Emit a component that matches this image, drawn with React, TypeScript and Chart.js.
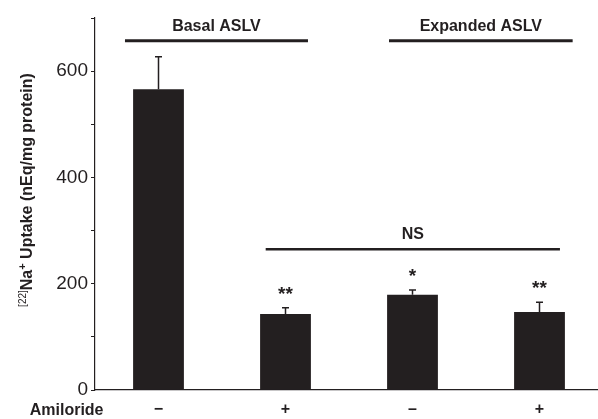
import React, { useEffect, useRef } from 'react';
import { Chart, registerables } from 'chart.js';

Chart.register(...registerables);

// ---- data ----
const categories = ['Basal ASLV, no amiloride', 'Basal ASLV, amiloride', 'Expanded ASLV, no amiloride', 'Expanded ASLV, amiloride'];
const amilorideTicks = ['−', '+', '–', '+'];
const uptake = [566, 143, 179, 147];
const uptakeSem = [61, 12, 9, 18];
const significance = ['', '**', '*', '**'];
const yMin = 0;
const yMax = 700;
const yStep = 100;
const yLabelEvery = 200;

// group brackets (in category-index units and y-data units)
const groupLabels = ['Basal ASLV', 'Expanded ASLV'];
const groupSpans = [[-0.264, 1.177], [1.815, 3.261]];
const groupLevel = 657;
const nsLabel = 'NS';
const nsSpan = [0.844, 3.161];
const nsLevel = 265;

const INK = '#231f20';
const FONT = '"Liberation Sans", Arial, Helvetica, sans-serif';

const overlayPlugin = {
  id: 'overlay',
  afterDatasetsDraw(chart: any) {
    const ctx = chart.ctx as CanvasRenderingContext2D;
    const xs = chart.scales.x;
    const ys = chart.scales.y;
    const x0 = xs.getPixelForValue(0);
    const step = xs.getPixelForValue(1) - x0;
    const px = (i: number) => x0 + i * step;

    ctx.save();
    ctx.strokeStyle = INK;
    ctx.fillStyle = INK;

    // error bars + significance stars
    const meta = chart.getDatasetMeta(0);
    meta.data.forEach((bar: any, i: number) => {
      const x = bar.x;
      const yv = ys.getPixelForValue(uptake[i]);
      const ye = ys.getPixelForValue(uptake[i] + uptakeSem[i]);
      ctx.lineWidth = 1.5;
      ctx.beginPath();
      ctx.moveTo(x, yv);
      ctx.lineTo(x, ye);
      ctx.moveTo(x - 3.5, ye);
      ctx.lineTo(x + 3.5, ye);
      ctx.stroke();
      if (significance[i]) {
        ctx.font = `bold 19px ${FONT}`;
        ctx.textAlign = 'center';
        ctx.textBaseline = 'alphabetic';
        ctx.fillText(significance[i], x, ye - 8);
      }
    });

    // brackets
    const drawBracket = (label: string, span: number[], level: number, lw: number) => {
      const y = ys.getPixelForValue(level);
      const a = px(span[0]);
      const b = px(span[1]);
      ctx.lineWidth = lw;
      ctx.lineCap = 'butt';
      ctx.beginPath();
      ctx.moveTo(a, y);
      ctx.lineTo(b, y);
      ctx.stroke();
      ctx.font = `bold 16px ${FONT}`;
      ctx.textAlign = 'center';
      ctx.textBaseline = 'alphabetic';
      ctx.fillText(label, (a + b) / 2, y - 10);
    };
    groupLabels.forEach((g, i) => drawBracket(g, groupSpans[i], groupLevel, 3));
    drawBracket(nsLabel, nsSpan, nsLevel, 2.5);

    // "Amiloride" row label
    ctx.font = `bold 16px ${FONT}`;
    ctx.textAlign = 'right';
    ctx.textBaseline = 'middle';
    ctx.fillText('Amiloride', 103.5, 411);

    // y-axis title with superscripts
    ctx.save();
    ctx.translate(32, 190);
    ctx.rotate(-Math.PI / 2);
    const parts = [
      { t: '[22]', font: `10px ${FONT}`, dy: -6 },
      { t: 'Na', font: `bold 16px ${FONT}`, dy: 0 },
      { t: '+', font: `bold 11px ${FONT}`, dy: -6 },
      { t: ' Uptake (nEq/mg protein)', font: `bold 16px ${FONT}`, dy: 0 },
    ];
    let total = 0;
    const widths = parts.map((p) => {
      ctx.font = p.font;
      const w = ctx.measureText(p.t).width;
      total += w;
      return w;
    });
    let cx = -total / 2;
    ctx.textAlign = 'left';
    ctx.textBaseline = 'alphabetic';
    parts.forEach((p, i) => {
      ctx.font = p.font;
      ctx.fillText(p.t, cx, p.dy);
      cx += widths[i];
    });
    ctx.restore();

    ctx.restore();
  },
};

export default function App() {
  const canvasRef = useRef<HTMLCanvasElement | null>(null);

  useEffect(() => {
    if (!canvasRef.current) return;
    const chart = new Chart(canvasRef.current, {
      type: 'bar',
      data: {
        labels: categories,
        datasets: [
          {
            data: uptake,
            backgroundColor: INK,
            borderWidth: 0,
            barPercentage: 0.4,
            categoryPercentage: 1.0,
          },
        ],
      },
      options: {
        animation: false,
        responsive: true,
        maintainAspectRatio: false,
        layout: { padding: { top: 18, left: 0, right: 0, bottom: 0 } },
        plugins: {
          legend: { display: false },
          tooltip: { enabled: false },
        },
        scales: {
          x: {
            type: 'category',
            offset: true,
            grid: { display: false, drawTicks: false },
            border: { display: true, color: INK, width: 1.2 },
            ticks: {
              padding: 10,
              color: INK,
              font: { family: FONT, size: 16, weight: 'bold' },
              maxRotation: 0,
              autoSkip: false,
              callback: (_v: any, i: number) => amilorideTicks[i],
            },
            afterFit: (scale: any) => {
              scale.height = 29;
            },
          },
          y: {
            min: yMin,
            max: yMax,
            grid: { drawOnChartArea: false, drawTicks: true, tickLength: 4, color: INK, lineWidth: 1 },
            border: { display: true, color: INK, width: 1.2 },
            ticks: {
              stepSize: yStep,
              padding: 3,
              color: INK,
              font: { family: FONT, size: 19 },
              callback: (v: any) => (Number(v) % yLabelEvery === 0 ? String(v) : ''),
            },
            afterFit: (scale: any) => {
              scale.width = 95;
            },
          },
        },
      },
      plugins: [overlayPlugin],
    });
    return () => chart.destroy();
  }, []);

  return (
    <div style={{ position: 'fixed', left: 0, top: 0, width: 598, height: 419, overflow: 'hidden', background: '#fff' }}>
      <div style={{ position: 'relative', width: 603, height: 419 }}>
        <canvas ref={canvasRef} />
      </div>
    </div>
  );
}
